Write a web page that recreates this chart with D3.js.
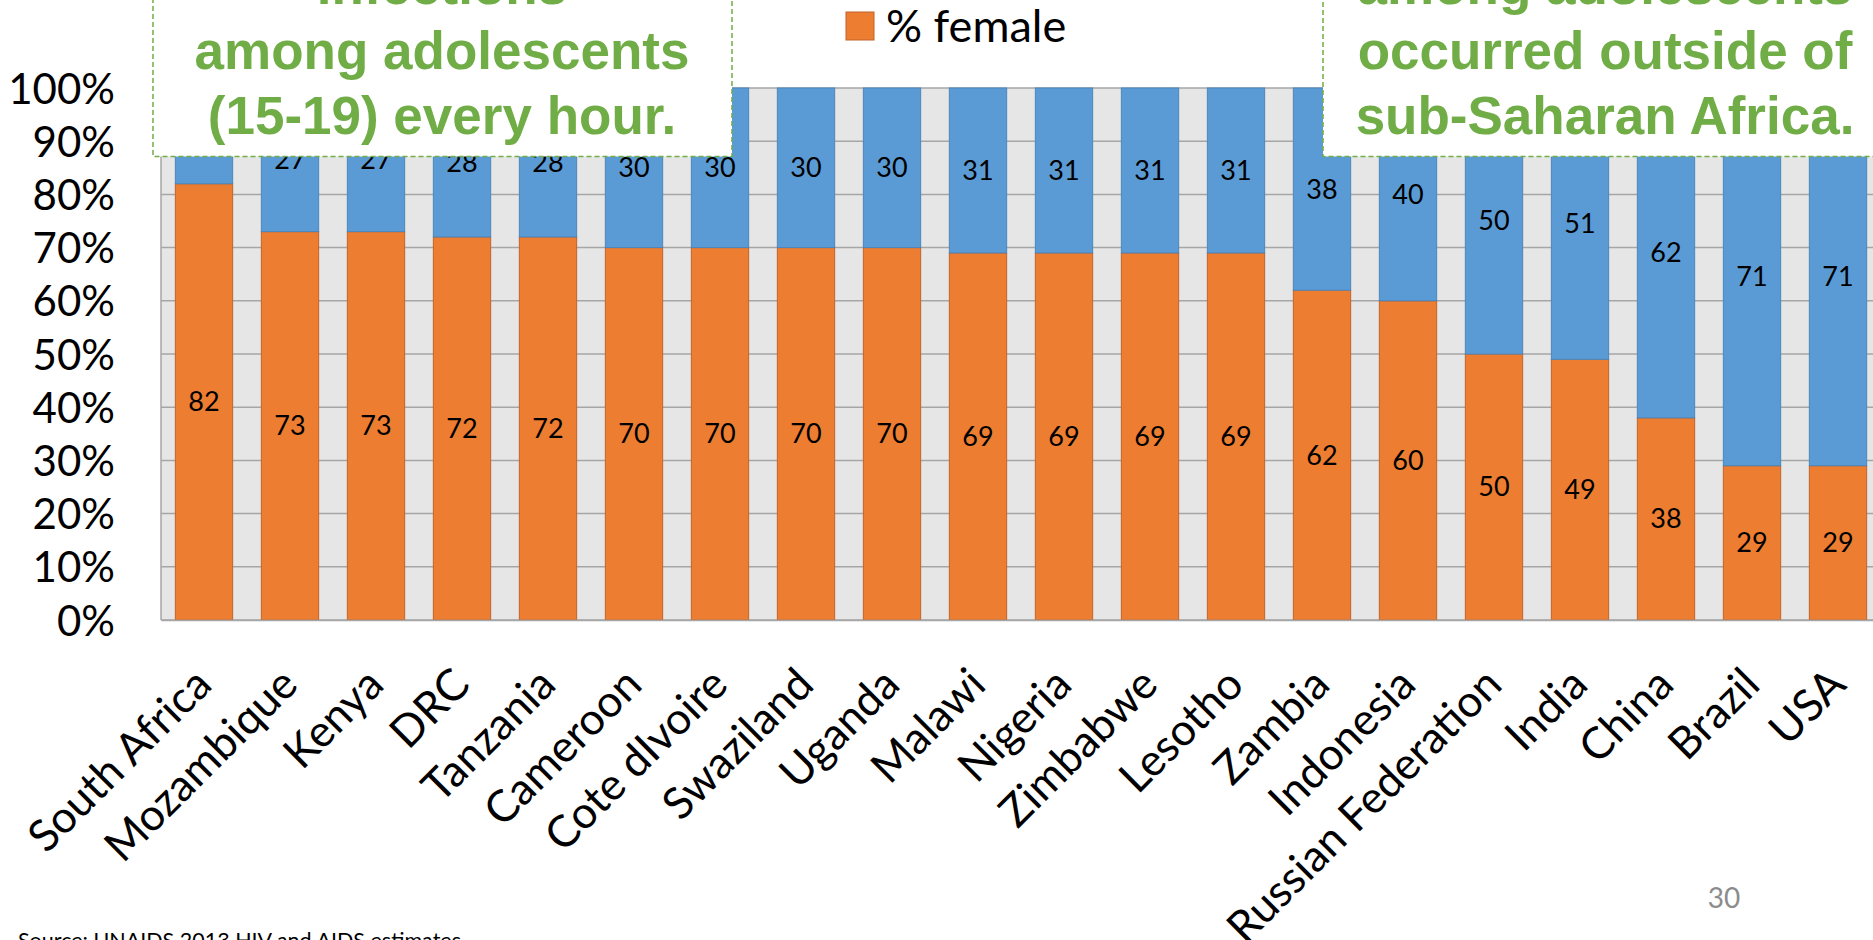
<!DOCTYPE html>
<html>
<head>
<meta charset="utf-8">
<script src="https://cdn.jsdelivr.net/npm/d3@7"></script>
<style>
  html, body { margin: 0; padding: 0; background: #fff; overflow: hidden; }
  svg { display: block; }
</style>
</head>
<body>
<svg id="chart" width="1873" height="940"></svg>
<script>
// ---- data ----
const categories = ["South Africa","Mozambique","Kenya","DRC","Tanzania","Cameroon","Cote dIvoire","Swaziland","Uganda","Malawi","Nigeria","Zimbabwe","Lesotho","Zambia","Indonesia","Russian Federation","India","China","Brazil","USA"];
const femaleValues = [82,73,73,72,72,70,70,70,70,69,69,69,69,62,60,50,49,38,29,29];
const maleValues   = [18,27,27,28,28,30,30,30,30,31,31,31,31,38,40,50,51,62,71,71];
const yTicks = [0,10,20,30,40,50,60,70,80,90,100];
const legendLabel = "% female";
const leftBoxLines = ["infections","among adolescents","(15-19) every hour."];
const rightBoxLines = ["among adolescents","occurred outside of","sub-Saharan Africa."];
const sourceText = "Source: UNAIDS 2013 HIV and AIDS estimates";
const pageNumber = "30";

const C_FEMALE = "#ED7D31", C_MALE = "#5B9BD5", C_GREEN = "#70AD47";
const FONT = "Lato, 'Open Sans', sans-serif";
const svg = d3.select("#chart");

const plot = { left: 161, right: 161 + 86 * 20, top: 88, bottom: 620 };

const x = d3.scaleBand().domain(categories)
  .range([plot.left, plot.right]).paddingInner(1/3).paddingOuter(1/6);
const y = d3.scaleLinear().domain([0, 100]).range([plot.bottom, plot.top]);

// plot background
svg.append("rect").attr("x", plot.left).attr("y", plot.top)
  .attr("width", plot.right - plot.left).attr("height", plot.bottom - plot.top)
  .attr("fill", "#E7E6E6");

// gridlines
svg.append("g").selectAll("line").data(yTicks).join("line")
  .attr("x1", plot.left).attr("x2", plot.right)
  .attr("y1", d => y(d)).attr("y2", d => y(d))
  .attr("stroke", "#A6A6A6").attr("stroke-width", 1.5);
svg.append("line").attr("x1", plot.left).attr("x2", plot.left)
  .attr("y1", plot.top).attr("y2", plot.bottom)
  .attr("stroke", "#A6A6A6").attr("stroke-width", 1.5);

// bars
const rows = categories.map((c, i) => ({ c, f: femaleValues[i], m: maleValues[i] }));
const bars = svg.append("g");
bars.selectAll("rect.f").data(rows).join("rect").attr("class", "f")
  .attr("x", d => x(d.c)).attr("width", x.bandwidth())
  .attr("y", d => y(d.f)).attr("height", d => y(0) - y(d.f))
  .attr("fill", C_FEMALE).attr("stroke", "#C0632A").attr("stroke-width", 1);
bars.selectAll("rect.m").data(rows).join("rect").attr("class", "m")
  .attr("x", d => x(d.c)).attr("width", x.bandwidth())
  .attr("y", d => y(d.f + d.m)).attr("height", d => y(d.f) - y(d.f + d.m))
  .attr("fill", C_MALE).attr("stroke", "#4A86BD").attr("stroke-width", 1);

// data labels
const lbl = svg.append("g").attr("font-family", FONT).attr("font-size", 27)
  .attr("fill", "#000").attr("text-anchor", "middle");
lbl.selectAll("text.f").data(rows).join("text")
  .attr("x", d => x(d.c) + x.bandwidth() / 2)
  .attr("y", d => y(d.f / 2)).attr("dy", "0.35em").text(d => d.f);
lbl.selectAll("text.m").data(rows).join("text")
  .attr("x", d => x(d.c) + x.bandwidth() / 2)
  .attr("y", d => y(d.f + d.m / 2)).attr("dy", "0.35em").text(d => d.m);

// y axis
const yAxis = svg.append("g").attr("transform", `translate(${plot.left},0)`)
  .call(d3.axisLeft(y).tickValues(yTicks).tickFormat(d => d + "%").tickSize(0).tickPadding(46));
yAxis.select(".domain").remove();
yAxis.selectAll("text").attr("font-family", FONT).attr("font-size", 42).attr("fill", "#000").attr("dy", "0.36em");

// x axis
const xAxis = svg.append("g").attr("transform", `translate(0,${plot.bottom})`)
  .call(d3.axisBottom(x).tickSize(0).tickPadding(0));
xAxis.select(".domain").attr("stroke", "#A6A6A6").attr("stroke-width", 1.5);
xAxis.selectAll("text").attr("font-family", FONT).attr("font-size", 44).attr("fill", "#000")
  .attr("text-anchor", "end").attr("dy", null).attr("y", 0)
  .attr("transform", "translate(10,67) rotate(-45)");

// legend
const lg = svg.append("g");
lg.append("rect").attr("x", 846).attr("y", 12).attr("width", 28).attr("height", 28)
  .attr("fill", C_FEMALE).attr("stroke", "#C0632A").attr("stroke-width", 1);
lg.append("text").attr("x", 886).attr("y", 42).attr("font-family", FONT)
  .attr("font-size", 45).attr("fill", "#000").text(legendLabel);

// green callout boxes
function callout(x0, x1, lines, cx) {
  const g = svg.append("g");
  g.append("rect").attr("x", x0).attr("y", -20).attr("width", x1 - x0).attr("height", 156.5 + 20)
    .attr("fill", "#fff").attr("stroke", C_GREEN).attr("stroke-width", 1.5)
    .attr("stroke-dasharray", "5,3");
  g.selectAll("text").data(lines).join("text")
    .attr("x", cx).attr("y", (d, i) => 4 + i * 65)
    .attr("text-anchor", "middle").attr("font-family", "'Liberation Sans', Arial, sans-serif")
    .attr("font-weight", "bold").attr("font-size", 53).attr("fill", C_GREEN).text(d => d);
}
callout(153, 732, leftBoxLines, 442);
callout(1323, 1900, rightBoxLines, 1605);

// footer
svg.append("text").attr("x", 18).attr("y", 948).attr("font-family", FONT)
  .attr("font-size", 21.5).attr("fill", "#000").text(sourceText);
svg.append("text").attr("x", 1724).attr("y", 908).attr("text-anchor", "middle")
  .attr("font-family", FONT).attr("font-size", 28).attr("fill", "#8C8C8C").text(pageNumber);
</script>
</body>
</html>
